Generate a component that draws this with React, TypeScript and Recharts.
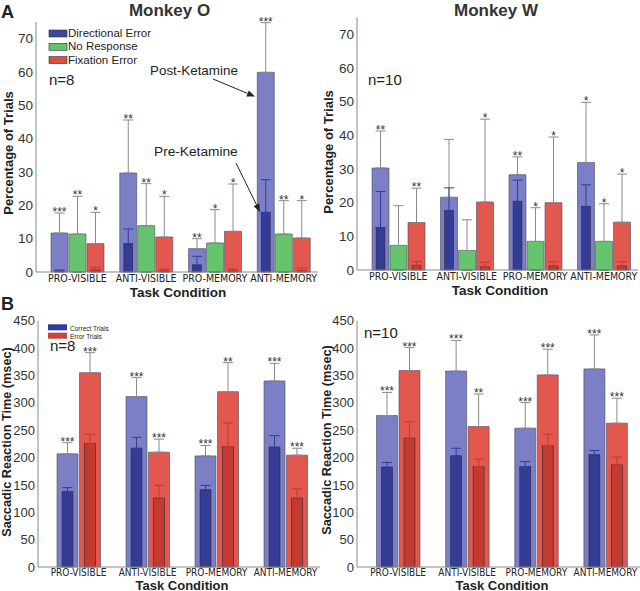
import { BarChart, Bar, XAxis, YAxis, ErrorBar, LabelList } from "recharts";

const categories = ["PRO-VISIBLE", "ANTI-VISIBLE", "PRO-MEMORY", "ANTI-MEMORY"];

// A - Monkey O, percentage of trials (post = light bars, pre = dark inner bars)
const oDirPost = [11.7, 29.7, 7.0, 59.9];
const oDirPostErr = [6.0, 15.9, 3.0, 14.9];
const oDirPre = [0.3, 8.5, 2.1, 17.9];
const oDirPreErr = [0.3, 4.4, 2.6, 9.8];
const oNoRespPost = [11.4, 13.9, 8.7, 11.4];
const oNoRespPostErr = [11.3, 12.6, 10.0, 10.0];
const oFixPost = [8.5, 10.5, 12.2, 10.2];
const oFixPostErr = [9.4, 12.2, 14.2, 11.2];
const oFixPre = [0.7, 0.4, 0.4, 0.5];
const oFixPreErr = [0.7, 0.5, 0.5, 0.7];
const oDirStars = ["***", "**", "**", "***"];
const oNoRespStars = ["**", "**", "*", "**"];
const oFixStars = ["*", "*", "*", "*"];

// A - Monkey W
const wDirPost = [30.3, 21.6, 28.3, 31.9];
const wDirPostErr = [11.0, 17.2, 5.3, 17.9];
const wDirPre = [12.6, 17.7, 20.4, 18.9];
const wDirPreErr = [10.7, 6.7, 6.3, 6.4];
const wNoRespPost = [7.3, 5.8, 8.5, 8.5];
const wNoRespPostErr = [11.8, 9.1, 10.0, 11.2];
const wFixPost = [14.1, 20.2, 20.0, 14.2];
const wFixPostErr = [10.2, 24.6, 19.5, 14.3];
const wFixPre = [1.4, 1.0, 1.2, 1.2];
const wFixPreErr = [1.1, 1.3, 1.3, 1.3];
const wDirStars = ["**", "", "**", "*"];
const wNoRespStars = ["", "", "*", "*"];
const wFixStars = ["**", "*", "*", "*"];

// no pre-ketamine no-response trials
const noRespPre = [0, 0, 0, 0];
const noRespPreErr = [0, 0, 0, 0];

// B - Monkey O, saccadic reaction time (msec)
const oCorrPost = [206.7, 311.3, 203, 340];
const oCorrPostErr = [20.3, 34.7, 19, 32];
const oCorrPre = [138, 217, 141, 219];
const oCorrPreErr = [7, 20, 8, 21];
const oErrPost = [355, 209.8, 320.4, 204.4];
const oErrPostErr = [36.6, 23.8, 53, 12.6];
const oErrPre = [226, 126, 220, 126];
const oErrPreErr = [16.7, 23, 42.7, 17];
const oCorrStars = ["***", "***", "***", "***"];
const oErrStars = ["***", "***", "**", "***"];

// B - Monkey W
const wCorrPost = [276.6, 358, 253.6, 361.9];
const wCorrPostErr = [42.4, 56, 46.8, 62.1];
const wCorrPre = [182.5, 203, 183.6, 205];
const wCorrPreErr = [8.5, 14, 9.1, 7.8];
const wErrPost = [358.8, 256.6, 351, 262.8];
const wErrPostErr = [41.9, 59.4, 46.8, 45.6];
const wErrPre = [235.4, 183.6, 222, 186.7];
const wErrPreErr = [30.3, 13.4, 20.7, 14];
const wCorrStars = ["***", "***", "***", "***"];
const wErrStars = ["***", "**", "***", "***"];

const pctTicks = [0, 10, 20, 30, 40, 50, 60, 70];
const rtTicks = [0, 50, 100, 150, 200, 250, 300, 350, 400, 450];

const BLUE = { light: "#7a7fc6", dark: "#343c96" };
const GREEN = { light: "#66c46e", dark: "#2f8a3a" };
const RED = { light: "#e2574e", dark: "#c43a30" };

const FONT = "'Liberation Sans', Arial, Helvetica, sans-serif";
const NARROW = "'Liberation Sans Narrow', 'Arial Narrow', 'DejaVu Sans Condensed', 'Liberation Sans', sans-serif";

type Series = {
  post: number[];
  postErr: number[];
  pre: number[];
  preErr: number[];
  stars: string[];
  light: string;
  dark: string;
};

const buildRows = (series: Series[]) =>
  categories.map((cat, i) => {
    const row: Record<string, any> = { cat };
    series.forEach((s, k) => {
      row[`post${k}`] = s.post[i];
      row[`postErr${k}`] = [0, s.postErr[i]];
      row[`pre${k}`] = s.pre[i];
      row[`preErr${k}`] = [0, s.preErr[i]];
      row[`top${k}`] = s.post[i] + s.postErr[i];
      row[`stars${k}`] = s.stars[i];
    });
    return row;
  });

// pre-ketamine bar: narrower rect centred in the post-ketamine bar
const PreShape = (props: any) => {
  const { x, y, width, height, fill } = props;
  if (!height || height <= 0) return <g />;
  const w = width * 0.52;
  return (
    <rect x={x + (width - w) / 2} y={y} width={w} height={height} fill={fill} stroke="#2a2a3a" strokeWidth={0.6} />
  );
};

interface PanelProps {
  series: Series[];
  width: number;
  height: number;
  top: number;
  right: number;
  yWidth: number;
  padLeft: number;
  domain: [number, number];
  ticks: number[];
  barSize: number;
  barGap: number;
  tickFont: number;
  tickMargin: number;
  xHeight: number;
}

const Panel = ({ series, width, height, top, right, yWidth, padLeft, domain, ticks, barSize, barGap, tickFont, tickMargin, xHeight }: PanelProps) => {
  const rows = buildRows(series);
  const pad = { left: padLeft, right: 0 };
  return (
    <BarChart width={width} height={height} data={rows} margin={{ top, right, left: 0, bottom: 0 }} barGap={barGap}>
      <XAxis
        xAxisId="post"
        dataKey="cat"
        interval={0}
        padding={pad}
        height={xHeight}
        tickLine={false}
        tickSize={0}
        tickMargin={tickMargin}
        axisLine={{ stroke: "#888" }}
        tick={{ fontSize: tickFont, fill: "#222", fontFamily: NARROW }}
      />
      <XAxis xAxisId="pre" dataKey="cat" hide padding={pad} />
      <XAxis xAxisId="star" dataKey="cat" hide padding={pad} />
      <YAxis
        width={yWidth}
        domain={domain}
        ticks={ticks}
        interval={0}
        tickLine={false}
        tickSize={0}
        tickMargin={3}
        axisLine={{ stroke: "#888" }}
        tick={{ fontSize: domain[1] > 100 ? 13 : 13.5, fill: "#333", fontFamily: FONT }}
      />
      {series.map((s, k) => (
        <Bar key={`post${k}`} xAxisId="post" dataKey={`post${k}`} fill={s.light} stroke="#4a4a5a" strokeWidth={0.6} barSize={barSize} isAnimationActive={false}>
          <ErrorBar dataKey={`postErr${k}`} width={5} stroke="#8a8a8a" strokeWidth={1} direction="y" />
        </Bar>
      ))}
      {series.map((s, k) => (
        <Bar key={`pre${k}`} xAxisId="pre" dataKey={`pre${k}`} fill={s.dark} barSize={barSize} shape={PreShape} isAnimationActive={false}>
          <ErrorBar dataKey={`preErr${k}`} width={5} stroke={s.dark} strokeWidth={1} direction="y" />
        </Bar>
      ))}
      {series.map((s, k) => (
        <Bar key={`star${k}`} xAxisId="star" dataKey={`top${k}`} fill="none" stroke="none" barSize={barSize} isAnimationActive={false}>
          <LabelList dataKey={`stars${k}`} position="top" offset={-3} fontSize={12} fill="#333" fontFamily={FONT} />
        </Bar>
      ))}
    </BarChart>
  );
};

const Arrow = ({ x1, y1, x2, y2 }: { x1: number; y1: number; x2: number; y2: number }) => {
  const len = Math.hypot(x2 - x1, y2 - y1);
  const ux = (x2 - x1) / len;
  const uy = (y2 - y1) / len;
  const bx = x2 - ux * 8;
  const by = y2 - uy * 8;
  return (
    <g>
      <line x1={x1} y1={y1} x2={bx} y2={by} stroke="#222" strokeWidth={1} />
      <polygon points={`${x2},${y2} ${bx - uy * 3.2},${by + ux * 3.2} ${bx + uy * 3.2},${by - ux * 3.2}`} fill="#222" />
    </g>
  );
};

const oErrorSeries: Series[] = [
  { post: oDirPost, postErr: oDirPostErr, pre: oDirPre, preErr: oDirPreErr, stars: oDirStars, ...BLUE },
  { post: oNoRespPost, postErr: oNoRespPostErr, pre: noRespPre, preErr: noRespPreErr, stars: oNoRespStars, ...GREEN },
  { post: oFixPost, postErr: oFixPostErr, pre: oFixPre, preErr: oFixPreErr, stars: oFixStars, ...RED },
];
const wErrorSeries: Series[] = [
  { post: wDirPost, postErr: wDirPostErr, pre: wDirPre, preErr: wDirPreErr, stars: wDirStars, ...BLUE },
  { post: wNoRespPost, postErr: wNoRespPostErr, pre: noRespPre, preErr: noRespPreErr, stars: wNoRespStars, ...GREEN },
  { post: wFixPost, postErr: wFixPostErr, pre: wFixPre, preErr: wFixPreErr, stars: wFixStars, ...RED },
];
const oRtSeries: Series[] = [
  { post: oCorrPost, postErr: oCorrPostErr, pre: oCorrPre, preErr: oCorrPreErr, stars: oCorrStars, ...BLUE },
  { post: oErrPost, postErr: oErrPostErr, pre: oErrPre, preErr: oErrPreErr, stars: oErrStars, ...RED },
];
const wRtSeries: Series[] = [
  { post: wCorrPost, postErr: wCorrPostErr, pre: wCorrPre, preErr: wCorrPreErr, stars: wCorrStars, ...BLUE },
  { post: wErrPost, postErr: wErrPostErr, pre: wErrPre, preErr: wErrPreErr, stars: wErrStars, ...RED },
];

export default function App() {
  const txt = { fontFamily: FONT, fill: "#222" };
  return (
    <div style={{ position: "absolute", left: 0, top: 0, width: 640, height: 591, background: "#fff", overflow: "hidden" }}>
      <div style={{ position: "absolute", left: 0, top: 0 }}>
        <Panel series={oErrorSeries} width={320} height={300} top={22} right={2} yWidth={36} padLeft={7} domain={[0, 75]} ticks={pctTicks} barSize={17} barGap={1} tickFont={10.5} tickMargin={3} xHeight={28} />
      </div>
      <div style={{ position: "absolute", left: 320, top: 0 }}>
        <Panel series={wErrorSeries} width={320} height={298} top={17.5} right={2} yWidth={37} padLeft={7} domain={[0, 75]} ticks={pctTicks} barSize={17} barGap={1} tickFont={10.5} tickMargin={3} xHeight={28} />
      </div>
      <div style={{ position: "absolute", left: 0, top: 300 }}>
        <Panel series={oRtSeries} width={320} height={291} top={20.7} right={0} yWidth={38} padLeft={6} domain={[0, 450]} ticks={rtTicks} barSize={21} barGap={1.5} tickFont={10} tickMargin={2} xHeight={24} />
      </div>
      <div style={{ position: "absolute", left: 320, top: 300 }}>
        <Panel series={wRtSeries} width={320} height={291} top={20.7} right={0} yWidth={37} padLeft={6.5} domain={[0, 450]} ticks={rtTicks} barSize={21} barGap={1.5} tickFont={10} tickMargin={2} xHeight={24} />
      </div>

      <svg width={640} height={591} style={{ position: "absolute", left: 0, top: 0, pointerEvents: "none" }}>
        {/* panel letters and titles */}
        <text x={1} y={18} fontSize={18} fontWeight="bold" {...txt}>A</text>
        <text x={1} y={310} fontSize={18} fontWeight="bold" {...txt}>B</text>
        <text x={169.5} y={15.5} fontSize={17} fontWeight="bold" textAnchor="middle" {...txt} fill="#333">Monkey O</text>
        <text x={496} y={15.5} fontSize={17} fontWeight="bold" textAnchor="middle" {...txt} fill="#333">Monkey W</text>

        {/* y labels */}
        <text transform="translate(13,153) rotate(-90)" fontSize={13} fontWeight="bold" textAnchor="middle" {...txt}>Percentage of Trials</text>
        <text transform="translate(333,152) rotate(-90)" fontSize={13} fontWeight="bold" textAnchor="middle" {...txt}>Percentage of Trials</text>
        <text transform="translate(11,442) rotate(-90)" fontSize={12.7} fontWeight="bold" textAnchor="middle" {...txt}>Saccadic Reaction Time (msec)</text>
        <text transform="translate(331,440) rotate(-90)" fontSize={12.7} fontWeight="bold" textAnchor="middle" {...txt}>Saccadic Reaction Time (msec)</text>

        {/* x labels */}
        <text x={178} y={297} fontSize={13.5} fontWeight="bold" textAnchor="middle" {...txt}>Task Condition</text>
        <text x={500} y={295} fontSize={13.5} fontWeight="bold" textAnchor="middle" {...txt}>Task Condition</text>
        <text x={182} y={589.5} fontSize={13} fontWeight="bold" textAnchor="middle" {...txt}>Task Condition</text>
        <text x={502} y={589.5} fontSize={13} fontWeight="bold" textAnchor="middle" {...txt}>Task Condition</text>

        {/* legend A */}
        <rect x={49} y={30} width={18} height={7} fill="#3d47a0" stroke="#333" strokeWidth={0.6} />
        <text x={68} y={37} fontSize={11.5} {...txt}>Directional Error</text>
        <rect x={49} y={43.3} width={18} height={7} fill="#5ec46a" stroke="#333" strokeWidth={0.6} />
        <text x={68} y={50.3} fontSize={11.5} {...txt}>No Response</text>
        <rect x={49} y={56.6} width={18} height={7} fill="#d94f45" stroke="#333" strokeWidth={0.6} />
        <text x={68} y={63.6} fontSize={11.5} {...txt}>Fixation Error</text>

        {/* legend B */}
        <rect x={48} y={324.3} width={19} height={6} fill="#2f3e96" />
        <text x={70} y={330.5} fontSize={6.5} {...txt}>Correct Trials</text>
        <rect x={48} y={332.7} width={19} height={6} fill="#c8453c" />
        <text x={70} y={338.7} fontSize={6.5} {...txt}>Error Trials</text>

        {/* sample sizes */}
        <text x={49} y={85} fontSize={15} {...txt}>n=8</text>
        <text x={368} y={85} fontSize={15} {...txt}>n=10</text>
        <text x={50} y={351} fontSize={15} {...txt}>n=8</text>
        <text x={364} y={338} fontSize={15} {...txt}>n=10</text>

        {/* annotations */}
        <text x={150} y={75} fontSize={13.4} {...txt}>Post-Ketamine</text>
        <Arrow x1={213} y1={79} x2={255} y2={96.5} />
        <text x={154} y={156} fontSize={13.7} {...txt}>Pre-Ketamine</text>
        <Arrow x1={236} y1={163} x2={260} y2={212} />
      </svg>
    </div>
  );
}
